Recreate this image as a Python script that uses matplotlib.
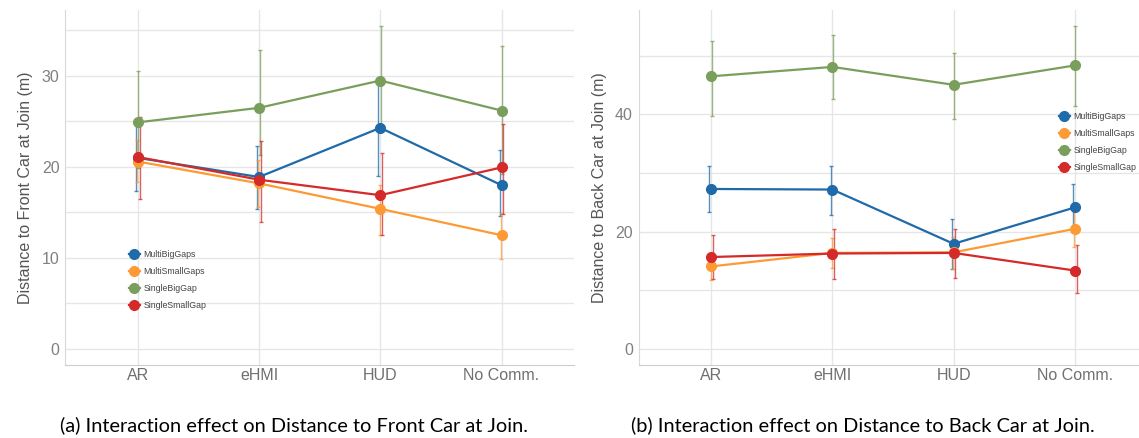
import matplotlib.pyplot as plt
import numpy as np

conditions = ["AR", "eHMI", "HUD", "No Comm."]
groups = ["MultiBigGaps", "MultiSmallGaps", "SingleBigGap", "SingleSmallGap"]
colors = ["#1f6aa9", "#fd9a35", "#7a9f5c", "#d42a2a"]

# front car distance: mean, lower, upper
front_mean = [
    [21.0, 18.9, 24.3, 18.0],
    [20.6, 18.2, 15.4, 12.5],
    [24.9, 26.5, 29.5, 26.2],
    [21.1, 18.6, 16.9, 19.95],
]
front_low = [
    [17.4, 15.4, 19.0, 14.6],
    [18.3, 15.6, 12.5, 9.85],
    [19.9, 21.3, 23.8, 19.2],
    [16.5, 14.0, 12.5, 14.8],
]
front_high = [
    [24.9, 22.3, 29.2, 21.9],
    [23.0, 20.8, 18.0, 14.9],
    [30.6, 32.9, 35.5, 33.3],
    [25.5, 22.9, 21.5, 24.7],
]

# back car distance
back_mean = [
    [27.3, 27.2, 17.95, 24.15],
    [14.1, 16.4, 16.5, 20.5],
    [46.5, 48.1, 45.05, 48.35],
    [15.7, 16.3, 16.4, 13.4],
]
back_low = [
    [23.3, 22.8, 13.6, 19.9],
    [11.8, 13.75, 13.6, 17.45],
    [39.7, 42.7, 39.15, 41.4],
    [11.9, 12.0, 12.15, 9.6],
]
back_high = [
    [31.2, 31.2, 22.1, 28.2],
    [16.3, 18.9, 19.1, 23.5],
    [52.6, 53.5, 50.4, 55.0],
    [19.5, 20.45, 20.5, 17.7],
]

dodge = [-0.015, -0.005, 0.005, 0.015]

plt.rcParams['font.family'] = ['Liberation Sans', 'DejaVu Sans']

fig = plt.figure(figsize=(11.39, 4.38), dpi=100)
W, H = 1139, 438


def panel(rect, mean, low, high, ylim, major, minor, ylabel):
    ax = fig.add_axes(rect)
    x = np.arange(len(conditions))
    for i, g in enumerate(groups):
        m = np.array(mean[i])
        lo = m - np.array(low[i])
        hi = np.array(high[i]) - m
        ax.errorbar(x + dodge[i], m, yerr=[lo, hi], fmt='none', ecolor=colors[i],
                    elinewidth=1, capsize=1.5, capthick=1, alpha=0.75, zorder=2)
        ax.plot(x, m, '-o', color=colors[i], lw=1.6, ms=7, label=g, zorder=3)
    ax.set_xlim(-0.6, 3.6)
    ax.set_ylim(*ylim)
    ax.set_xticks(x)
    ax.set_xticklabels(conditions)
    ax.set_yticks(major)
    ax.set_yticks(minor, minor=True)
    ax.grid(True, which='both', axis='y', color='#e6e6e6', lw=1)
    ax.grid(True, which='major', axis='x', color='#e6e6e6', lw=1)
    ax.set_axisbelow(True)
    ax.tick_params(which='both', length=0, labelsize=11.5, labelcolor='#808080', pad=4)
    ax.tick_params(axis='x', pad=2, labelcolor='#707070')
    for s in ['top', 'right']:
        ax.spines[s].set_visible(False)
    ax.spines['left'].set_color('#d9d9d9')
    ax.spines['bottom'].set_color('#cccccc')
    ax.set_ylabel(ylabel, fontsize=11.5, color='#555555', labelpad=6)
    return ax


ax1 = panel([65 / W, 73 / H, 509.3 / W, 355 / H], front_mean, front_low, front_high,
            (-1.76, 37.25), [0, 10, 20, 30], [5, 15, 25, 35],
            "Distance to Front Car at Join (m)")
ax2 = panel([638.5 / W, 73 / H, 509 / W, 355 / H], back_mean, back_low, back_high,
            (-2.7, 57.8), [0, 20, 40], [10, 30, 50],
            "Distance to Back Car at Join (m)")

for ax, (px, py) in [(ax1, (129, 250)), (ax2, (1059, 112))]:
    leg = ax.legend(loc='upper left', bbox_to_anchor=(px / W, 1 - py / H),
                    bbox_transform=fig.transFigure, frameon=False, fontsize=6.3,
                    handlelength=1.25, handletextpad=0.4, labelspacing=0.9,
                    borderpad=0, borderaxespad=0)
    for t in leg.get_texts():
        t.set_color('#444444')

fig.text(293.5 / W, 1 - 431 / H, "(a) Interaction effect on Distance to Front Car at Join.",
         ha='center', va='baseline', fontsize=14.4, family='Lato')
fig.text(863 / W, 1 - 431 / H, "(b) Interaction effect on Distance to Back Car at Join.",
         ha='center', va='baseline', fontsize=14.4, family='Lato')

fig.savefig("out.png", dpi=100)
